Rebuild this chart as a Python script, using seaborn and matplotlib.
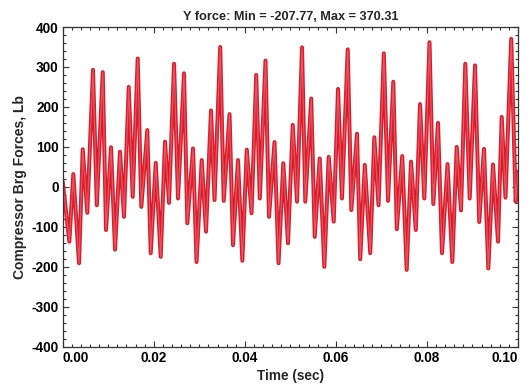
import matplotlib
matplotlib.use("Agg")
import matplotlib.pyplot as plt
from matplotlib.ticker import MultipleLocator
import seaborn as sns
import pandas as pd

# Turning points of the Y bearing force trace (time in ms, force in Lb)
time_ms = [
    0.00, 1.45, 2.33, 3.58, 4.39, 5.40, 6.65, 7.49, 8.79, 9.51,
    10.61, 11.49, 12.58, 13.46, 14.50, 15.37, 16.47, 17.26, 18.58, 19.33,
    20.43, 21.52, 22.47, 23.35, 24.45, 25.32, 26.64, 27.37, 28.62, 29.39,
    30.53, 31.47, 32.57, 33.34, 34.59, 35.36, 36.64, 37.40, 38.50, 39.45,
    40.43, 41.47, 42.50, 43.29, 44.54, 45.31, 46.52, 47.40, 48.45, 49.48,
    50.52, 51.46, 52.56, 53.28, 54.58, 55.35, 56.45, 57.46, 58.42, 59.52,
    60.47, 61.34, 62.60, 63.39, 64.64, 65.34, 66.35, 67.54, 68.44, 69.36,
    70.53, 71.45, 72.61, 73.38, 74.57, 75.55, 76.50, 77.55, 78.48, 79.42,
    80.56, 81.40, 82.43, 83.31, 84.52, 85.57, 86.54, 87.48, 88.42, 89.39,
    90.56, 91.48, 92.53, 93.48, 94.51, 95.61, 96.42, 97.25, 98.51, 99.49,
    100.00,
]
force_lb = [
    13, -137, 32, -191, 94, -65, 293, -46, 287, -108,
    99, -157, 88, -75, 250, -25, 321, -50, 142, -166,
    60, -175, 113, -40, 308, -29, 284, -91, 96, -188,
    67, -112, 191, -33, 350, -35, 182, -146, 67, -185,
    93, -66, 280, -29, 316, -75, 112, -191, 59, -141,
    155, -37, 349, -37, 221, -125, 71, -200, 75, -87,
    245, -29, 344, -58, 133, -181, 55, -166, 124, -46,
    334, -35, 263, -106, 77, -207.77, 63, -108, 207, -29,
    362, -43, 160, -166, 57, -188, 100, -59, 308, -29,
    304, -88, 95, -204, 56, -137, 175, -27, 370.31, -37,
    38,
]

x_ticks = [0.00, 0.02, 0.04, 0.06, 0.08, 0.10]
y_ticks = [-400, -300, -200, -100, 0, 100, 200, 300, 400]

df = pd.DataFrame({"time": [t / 1000.0 for t in time_ms], "force": force_lb})

sns.set_style("ticks")
plt.rcParams["font.family"] = ["Liberation Sans", "DejaVu Sans"]
plt.rcParams["font.weight"] = "bold"

fig = plt.figure(figsize=(5.32, 3.87), dpi=100)
ax = fig.add_axes([0.1179, 0.1041, 0.8558, 0.8261])

# thick red trace with a lighter core
sns.lineplot(data=df, x="time", y="force", ax=ax, estimator=None, sort=False,
             color="#d81c2c", linewidth=2.9)
ax.lines[0].set_solid_joinstyle("round")
sns.lineplot(data=df, x="time", y="force", ax=ax, estimator=None, sort=False,
             color="#e9545f", linewidth=0.9)

ax.set_xlim(0, 0.1)
ax.set_ylim(-400, 400)
ax.set_xticks(x_ticks)
ax.set_yticks(y_ticks)
ax.xaxis.set_minor_locator(MultipleLocator(0.002))
ax.yaxis.set_minor_locator(MultipleLocator(20))
ax.set_xticklabels([f"{v:.2f}" for v in x_ticks], fontsize=9.8, fontweight="bold")
ax.set_yticklabels([str(v) for v in y_ticks], fontsize=9.8, fontweight="bold")
labels = ax.get_xticklabels()
labels[0].set_ha("left")
labels[-1].set_ha("right")

ax.tick_params(which="both", direction="in", top=True, right=True,
               colors="#333333", labelcolor="black", width=0.8)
ax.tick_params(which="major", length=4, pad=3)
ax.tick_params(which="minor", length=2)
for s in ax.spines.values():
    s.set_color("#333333")
    s.set_linewidth(0.9)

ax.set_title("Y force: Min = -207.77, Max = 370.31", fontsize=9.2,
             fontweight="bold", pad=5)
ax.set_xlabel("Time (sec)", fontsize=9.8, fontweight="bold", labelpad=3)
ax.set_ylabel("Compressor Brg Forces, Lb", fontsize=10, fontweight="bold", labelpad=3)

fig.savefig("out.png", dpi=100)
